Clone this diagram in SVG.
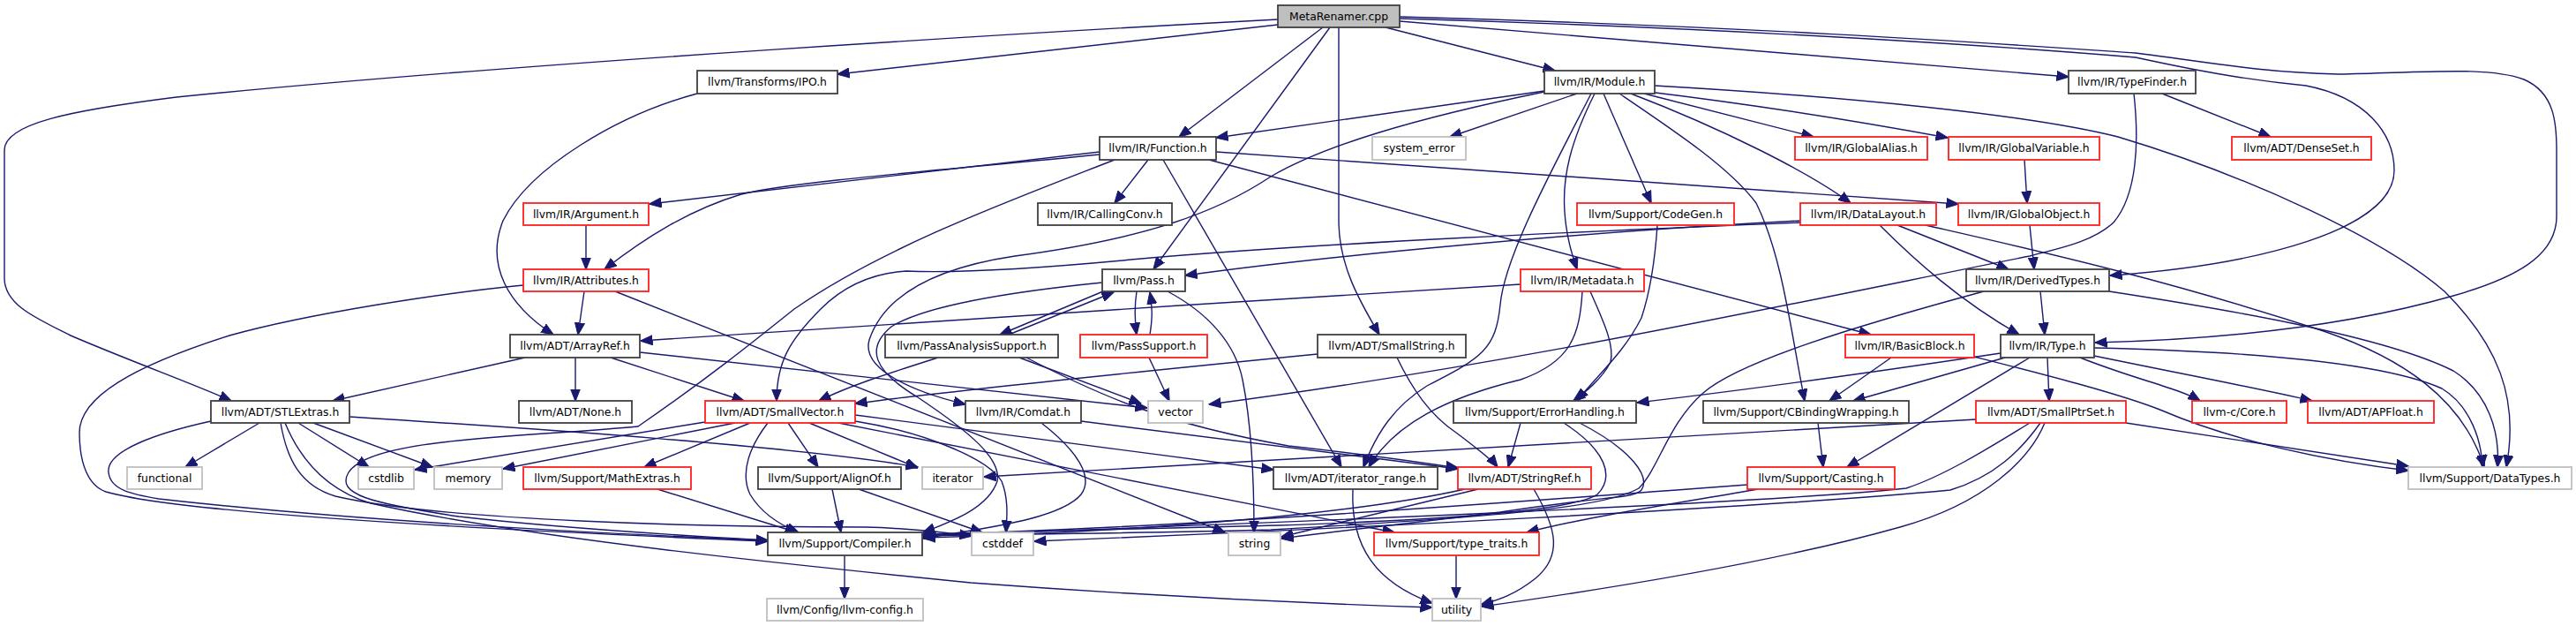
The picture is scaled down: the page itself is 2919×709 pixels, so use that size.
<svg xmlns="http://www.w3.org/2000/svg" width="2919" height="709" viewBox="0 0 2919 709">
<style>
.node rect{fill:#ffffff;stroke-width:1.8}
.blk rect{stroke:#404040}
.red rect{stroke:#ff2020}
.gry rect{stroke:#bfbfbf}
.root rect{fill:#bfbfbf;stroke:#404040}
.node text{font-family:"DejaVu Sans",sans-serif;font-size:12.4px;fill:#000000;text-anchor:middle}
#edges path{fill:none;stroke:#191970;stroke-width:1.4;marker-end:url(#ah)}
</style>
<defs>
<marker id="ah" markerUnits="userSpaceOnUse" viewBox="0 0 14 12" markerWidth="14" markerHeight="12" refX="13.5" refY="6" orient="auto">
<path d="M0,0.5 L14,6 L0,11.5 z" fill="#191970" stroke="#191970" stroke-width="1"/>
</marker>
</defs>
<rect x="0" y="0" width="2919" height="709" fill="#ffffff"/>
<g id="edges">
<path d="M1448,22 C1200,35 600,70 200,110 C80,125 5,140 5,170 L5,315 C5,345 40,360 80,380 C150,410 220,435 262,454"/>
<path d="M1448,28 L949,84"/>
<path d="M1499,31 L1336,155"/>
<path d="M1507,31 L1307,305"/>
<path d="M1517,31 L1517,250 C1517,300 1540,340 1563,379"/>
<path d="M1570,31 L1762,80"/>
<path d="M1586,24 L2344,87"/>
<path d="M1586,21 C2000,33 2300,55 2420,65 C2480,78 2540,90 2613,97 C2680,110 2713,150 2713,193 C2713,260 2560,300 2391,312"/>
<path d="M1586,19 C2000,30 2300,52 2420,60 C2500,70 2560,82 2650,84 C2750,82 2820,75 2860,90 C2895,105 2897,140 2897,170 L2897,245 C2897,290 2850,315 2780,335 C2650,372 2500,385 2374,388"/>
<path d="M790,106 C700,130 600,190 570,250 C550,300 575,345 627,379"/>
<path d="M1750,103 C1600,125 1450,145 1378,156"/>
<path d="M1787,106 L1643,155"/>
<path d="M1750,104 C1600,135 1500,165 1440,200 C1380,240 1300,270 1150,290 C1050,305 1000,340 985,385 C975,420 1040,445 1094,458"/>
<path d="M1803,106 C1760,190 1705,290 1700,345 C1695,395 1680,405 1617,437 C1580,460 1560,490 1545,529"/>
<path d="M1807,106 C1780,160 1770,200 1773,240 C1775,270 1782,290 1787,305"/>
<path d="M1817,106 L1871,230"/>
<path d="M1835,106 C1900,150 1960,190 1990,230 C2020,290 2030,380 2045,454"/>
<path d="M1848,106 C1950,145 2050,195 2097,230"/>
<path d="M1863,106 L2055,155"/>
<path d="M1868,104 C2000,120 2120,140 2207,156"/>
<path d="M1875,97 C2100,110 2300,130 2400,155 C2550,200 2700,270 2770,330 C2830,390 2855,450 2840,529"/>
<path d="M2450,106 L2573,155"/>
<path d="M2418,106 C2424,160 2422,220 2395,252 C2370,275 2330,282 2300,290 C2000,350 1700,415 1370,458"/>
<path d="M1246,172 L736,231"/>
<path d="M1246,175 C1100,190 900,205 840,220 C780,238 730,270 685,305"/>
<path d="M1301,181 L1263,230"/>
<path d="M1318,181 L1520,529"/>
<path d="M1370,181 L2120,379"/>
<path d="M1378,172 L2219,231"/>
<path d="M1263,181 C1150,225 1000,280 900,350 C850,390 800,430 723,483 C600,495 420,495 395,535 C380,560 420,570 520,585 C650,600 800,608 870,612"/>
<path d="M664,255 L664,305"/>
<path d="M662,330 L655,379"/>
<path d="M697,330 L1388,603"/>
<path d="M593,323 C500,332 350,355 260,380 C150,415 90,450 90,490 C90,525 100,550 120,557 C200,580 500,598 870,613"/>
<path d="M1878,255 C1875,300 1870,330 1860,360 C1840,400 1810,425 1787,454"/>
<path d="M1723,322 C1400,340 1000,370 726,386"/>
<path d="M1793,330 C1790,380 1780,410 1723,430 C1640,450 1580,480 1551,529"/>
<path d="M1802,330 C1815,360 1830,390 1825,410 C1815,430 1795,445 1783,454"/>
<path d="M2040,250 C1800,262 1500,290 1343,312"/>
<path d="M2040,252 C1800,262 1500,275 1293,293 C1200,302 1100,310 1027,307 C980,310 950,330 930,350 C895,385 880,410 880,454"/>
<path d="M2150,255 L2276,305"/>
<path d="M2130,255 C2170,295 2220,340 2288,379"/>
<path d="M2182,255 C2300,282 2450,315 2633,375 C2720,405 2790,450 2815,529"/>
<path d="M2294,181 L2297,230"/>
<path d="M2300,255 L2305,305"/>
<path d="M2312,330 L2317,379"/>
<path d="M2390,330 C2520,350 2700,380 2780,420 C2820,445 2833,490 2830,529"/>
<path d="M2248,330 C2100,370 1970,410 1930,445 C1890,480 1880,530 1857,553 C1820,575 1700,585 1440,600 C1250,605 1100,605 1046,607"/>
<path d="M1288,330 C1285,350 1286,365 1288,379"/>
<path d="M1303,379 C1306,360 1306,348 1303,331"/>
<path d="M1250,330 L1133,379"/>
<path d="M1143,379 L1262,331"/>
<path d="M1323,330 C1370,355 1400,390 1408,430 C1420,490 1421,560 1421,603"/>
<path d="M1249,320 C1150,330 1050,345 1010,370 C980,395 990,420 1040,450 C1100,490 1135,520 1130,545 C1120,575 1080,590 1046,603"/>
<path d="M725,399 L1300,462"/>
<path d="M652,405 L652,454"/>
<path d="M595,405 L377,454"/>
<path d="M692,405 L843,454"/>
<path d="M1063,405 C1000,425 960,438 928,454"/>
<path d="M1155,405 L1293,457"/>
<path d="M1163,405 C1250,450 1320,480 1460,505 C1550,515 1600,522 1652,530"/>
<path d="M1302,405 L1325,454"/>
<path d="M1493,401 C1300,420 1100,440 969,457"/>
<path d="M1583,405 C1600,440 1620,470 1650,490 C1670,505 1690,520 1697,529"/>
<path d="M2143,405 L2073,454"/>
<path d="M2237,404 C2300,420 2400,445 2450,465 C2520,495 2620,520 2729,533"/>
<path d="M2267,400 C2100,425 1950,445 1855,456"/>
<path d="M2272,405 L2100,454"/>
<path d="M2300,405 L2093,529"/>
<path d="M2320,405 L2322,454"/>
<path d="M2357,405 C2420,430 2470,440 2493,454"/>
<path d="M2373,403 C2480,425 2560,440 2620,454"/>
<path d="M2373,394 C2550,398 2700,410 2767,440 C2800,460 2812,500 2813,529"/>
<path d="M294,479 L210,529"/>
<path d="M338,479 L418,529"/>
<path d="M355,479 L490,529"/>
<path d="M396,472 C600,485 900,505 1040,529"/>
<path d="M239,477 C180,490 120,510 123,535 C125,555 150,560 180,565 C400,590 700,605 870,612"/>
<path d="M318,479 C325,520 340,550 380,562 C500,590 800,597 980,597 C1030,598 1070,603 1101,607"/>
<path d="M323,479 C340,520 370,555 420,570 C600,610 900,640 1100,660 C1300,675 1500,684 1623,688"/>
<path d="M799,478 L470,532"/>
<path d="M833,479 L570,531"/>
<path d="M850,479 L730,529"/>
<path d="M870,479 C850,505 838,535 850,560 C865,585 890,597 905,603"/>
<path d="M893,479 L927,529"/>
<path d="M917,479 L1040,530"/>
<path d="M969,477 C1050,490 1120,520 1135,545 C1143,565 1141,585 1140,603"/>
<path d="M950,479 L1580,603"/>
<path d="M969,470 L1443,532"/>
<path d="M1180,479 C1220,510 1240,540 1225,560 C1200,590 1100,600 1046,610"/>
<path d="M1225,477 L1652,531"/>
<path d="M1723,479 L1709,529"/>
<path d="M1772,479 C1820,510 1830,540 1810,560 C1780,580 1600,590 1450,595 C1250,600 1100,603 1046,606"/>
<path d="M1790,479 C1850,510 1870,540 1860,555 C1850,565 1830,560 1700,580 C1580,595 1500,603 1452,610"/>
<path d="M2060,479 L2066,529"/>
<path d="M2239,475 L1115,540"/>
<path d="M2300,479 C2250,510 2200,540 2160,553 C2000,570 1500,590 1046,607"/>
<path d="M2312,479 C2290,510 2260,540 2210,555 C2000,575 1500,600 1172,613"/>
<path d="M2317,479 C2300,520 2250,570 2153,597 C2000,640 1800,670 1679,687"/>
<path d="M2409,479 L2729,528"/>
<path d="M745,554 L903,603"/>
<path d="M943,554 L953,603"/>
<path d="M973,554 L1113,603"/>
<path d="M1533,554 C1530,620 1560,660 1623,683"/>
<path d="M1738,554 C1765,600 1770,630 1740,655 C1715,675 1695,680 1678,685"/>
<path d="M1675,554 L1452,608"/>
<path d="M1660,554 C1500,590 1200,605 1046,609"/>
<path d="M1980,549 C1700,570 1300,600 1046,605"/>
<path d="M1992,554 C1900,570 1800,585 1730,603"/>
<path d="M957,629 L957,678"/>
<path d="M1650,629 L1650,678"/>
</g>
<g id="n-MetaRenamer" class="node root"><rect x="1448" y="6" width="138" height="25"/><text x="1517" y="22.5">MetaRenamer.cpp</text></g>
<g id="n-IPO" class="node blk"><rect x="790" y="80" width="159" height="26"/><text x="869.5" y="97">llvm/Transforms/IPO.h</text></g>
<g id="n-Module" class="node blk"><rect x="1750" y="80" width="125" height="26"/><text x="1812.5" y="97">llvm/IR/Module.h</text></g>
<g id="n-TypeFinder" class="node blk"><rect x="2344" y="80" width="144" height="26"/><text x="2416" y="97">llvm/IR/TypeFinder.h</text></g>
<g id="n-Function" class="node blk"><rect x="1246" y="155" width="132" height="26"/><text x="1312" y="172">llvm/IR/Function.h</text></g>
<g id="n-system_error" class="node gry"><rect x="1555" y="155" width="106" height="26"/><text x="1608" y="172">system_error</text></g>
<g id="n-GlobalAlias" class="node red"><rect x="2034" y="155" width="150" height="26"/><text x="2109" y="172">llvm/IR/GlobalAlias.h</text></g>
<g id="n-GlobalVariable" class="node red"><rect x="2208" y="155" width="171" height="26"/><text x="2293.5" y="172">llvm/IR/GlobalVariable.h</text></g>
<g id="n-DenseSet" class="node red"><rect x="2529" y="155" width="158" height="26"/><text x="2608" y="172">llvm/ADT/DenseSet.h</text></g>
<g id="n-Argument" class="node red"><rect x="593" y="230" width="142" height="25"/><text x="664" y="246.5">llvm/IR/Argument.h</text></g>
<g id="n-CallingConv" class="node blk"><rect x="1176" y="230" width="152" height="25"/><text x="1252" y="246.5">llvm/IR/CallingConv.h</text></g>
<g id="n-CodeGen" class="node red"><rect x="1787" y="230" width="178" height="25"/><text x="1876" y="246.5">llvm/Support/CodeGen.h</text></g>
<g id="n-DataLayout" class="node red"><rect x="2040" y="230" width="154" height="25"/><text x="2117" y="246.5">llvm/IR/DataLayout.h</text></g>
<g id="n-GlobalObject" class="node red"><rect x="2219" y="230" width="160" height="25"/><text x="2299" y="246.5">llvm/IR/GlobalObject.h</text></g>
<g id="n-Attributes" class="node red"><rect x="593" y="305" width="142" height="25"/><text x="664" y="321.5">llvm/IR/Attributes.h</text></g>
<g id="n-Pass" class="node blk"><rect x="1249" y="305" width="94" height="25"/><text x="1296" y="321.5">llvm/Pass.h</text></g>
<g id="n-Metadata" class="node red"><rect x="1723" y="305" width="140" height="25"/><text x="1793" y="321.5">llvm/IR/Metadata.h</text></g>
<g id="n-DerivedTypes" class="node blk"><rect x="2228" y="305" width="162" height="25"/><text x="2309" y="321.5">llvm/IR/DerivedTypes.h</text></g>
<g id="n-ArrayRef" class="node blk"><rect x="578" y="379" width="147" height="26"/><text x="651.5" y="396">llvm/ADT/ArrayRef.h</text></g>
<g id="n-PassAnalysisSupport" class="node blk"><rect x="1003" y="379" width="196" height="26"/><text x="1101" y="396">llvm/PassAnalysisSupport.h</text></g>
<g id="n-PassSupport" class="node red"><rect x="1224" y="379" width="144" height="26"/><text x="1296" y="396">llvm/PassSupport.h</text></g>
<g id="n-SmallString" class="node blk"><rect x="1493" y="379" width="168" height="26"/><text x="1577" y="396">llvm/ADT/SmallString.h</text></g>
<g id="n-BasicBlock" class="node red"><rect x="2091" y="379" width="146" height="26"/><text x="2164" y="396">llvm/IR/BasicBlock.h</text></g>
<g id="n-Type" class="node blk"><rect x="2267" y="379" width="106" height="26"/><text x="2320" y="396">llvm/IR/Type.h</text></g>
<g id="n-STLExtras" class="node blk"><rect x="239" y="454" width="157" height="25"/><text x="317.5" y="470.5">llvm/ADT/STLExtras.h</text></g>
<g id="n-None" class="node blk"><rect x="588" y="454" width="128" height="25"/><text x="652" y="470.5">llvm/ADT/None.h</text></g>
<g id="n-SmallVector" class="node red"><rect x="799" y="454" width="170" height="25"/><text x="884" y="470.5">llvm/ADT/SmallVector.h</text></g>
<g id="n-Comdat" class="node blk"><rect x="1094" y="454" width="131" height="25"/><text x="1159.5" y="470.5">llvm/IR/Comdat.h</text></g>
<g id="n-vector" class="node gry"><rect x="1301" y="454" width="62" height="25"/><text x="1332" y="470.5">vector</text></g>
<g id="n-ErrorHandling" class="node blk"><rect x="1647" y="454" width="207" height="25"/><text x="1750.5" y="470.5">llvm/Support/ErrorHandling.h</text></g>
<g id="n-CBindingWrapping" class="node blk"><rect x="1930" y="454" width="233" height="25"/><text x="2046.5" y="470.5">llvm/Support/CBindingWrapping.h</text></g>
<g id="n-SmallPtrSet" class="node red"><rect x="2239" y="454" width="170" height="25"/><text x="2324" y="470.5">llvm/ADT/SmallPtrSet.h</text></g>
<g id="n-Core" class="node red"><rect x="2484" y="454" width="107" height="25"/><text x="2537.5" y="470.5">llvm-c/Core.h</text></g>
<g id="n-APFloat" class="node red"><rect x="2615" y="454" width="143" height="25"/><text x="2686.5" y="470.5">llvm/ADT/APFloat.h</text></g>
<g id="n-functional" class="node gry"><rect x="144" y="529" width="85" height="25"/><text x="186.5" y="545.5">functional</text></g>
<g id="n-cstdlib" class="node gry"><rect x="406" y="529" width="63" height="25"/><text x="437.5" y="545.5">cstdlib</text></g>
<g id="n-memory" class="node gry"><rect x="492" y="529" width="77" height="25"/><text x="530.5" y="545.5">memory</text></g>
<g id="n-MathExtras" class="node red"><rect x="593" y="529" width="190" height="25"/><text x="688" y="545.5">llvm/Support/MathExtras.h</text></g>
<g id="n-AlignOf" class="node blk"><rect x="859" y="529" width="162" height="25"/><text x="940" y="545.5">llvm/Support/AlignOf.h</text></g>
<g id="n-iterator" class="node gry"><rect x="1045" y="529" width="69" height="25"/><text x="1079.5" y="545.5">iterator</text></g>
<g id="n-iterator_range" class="node blk"><rect x="1443" y="529" width="186" height="25"/><text x="1536" y="545.5">llvm/ADT/iterator_range.h</text></g>
<g id="n-StringRef" class="node red"><rect x="1652" y="529" width="151" height="25"/><text x="1727.5" y="545.5">llvm/ADT/StringRef.h</text></g>
<g id="n-Casting" class="node red"><rect x="1980" y="529" width="167" height="25"/><text x="2063.5" y="545.5">llvm/Support/Casting.h</text></g>
<g id="n-DataTypes" class="node gry"><rect x="2729" y="529" width="185" height="25"/><text x="2821.5" y="545.5">llvm/Support/DataTypes.h</text></g>
<g id="n-Compiler" class="node blk"><rect x="870" y="603" width="175" height="26"/><text x="957.5" y="620">llvm/Support/Compiler.h</text></g>
<g id="n-cstddef" class="node gry"><rect x="1101" y="603" width="70" height="26"/><text x="1136" y="620">cstddef</text></g>
<g id="n-string" class="node gry"><rect x="1392" y="603" width="59" height="26"/><text x="1421.5" y="620">string</text></g>
<g id="n-type_traits" class="node red"><rect x="1557" y="603" width="187" height="26"/><text x="1650.5" y="620">llvm/Support/type_traits.h</text></g>
<g id="n-llvm-config" class="node gry"><rect x="869" y="678" width="177" height="25"/><text x="957.5" y="694.5">llvm/Config/llvm-config.h</text></g>
<g id="n-utility" class="node gry"><rect x="1623" y="678" width="55" height="25"/><text x="1650.5" y="694.5">utility</text></g>
</svg>
